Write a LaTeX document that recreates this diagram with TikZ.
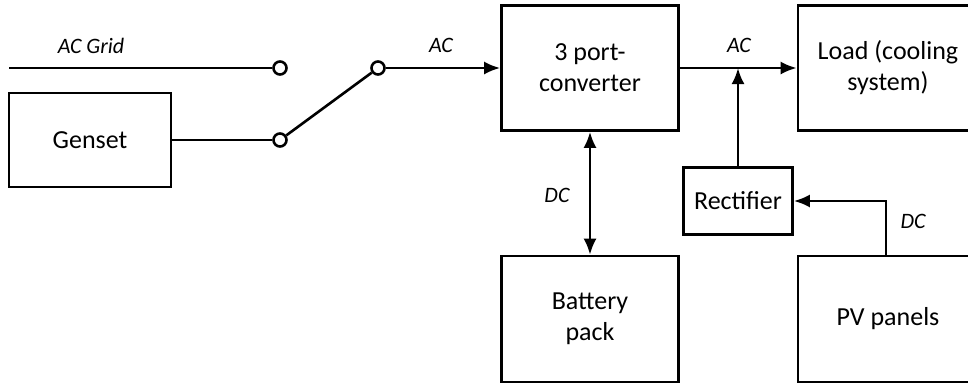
\documentclass[tikz,border=0pt]{standalone}
\usepackage{fontspec}
\setmainfont{Carlito}
\usetikzlibrary{arrows.meta,positioning,calc}

\begin{document}
\begin{tikzpicture}[x=1pt, y=-1pt, line width=2.6pt,
    every node/.style={font=\fontsize{26}{31}\selectfont},
    blk/.style={draw, rectangle, inner sep=0pt, align=center},
    term/.style={draw, circle, fill=white, inner sep=0pt, minimum size=13pt},
    lbl/.style={font=\fontsize{22}{26}\selectfont\itshape},
    flow/.style={-{Latex[length=16pt,width=13pt]}}]
  \clip (0,0) rectangle (968,384);
  % blocks
  \node[blk, minimum width=162pt, minimum height=94pt] (gen) at (90,140) {Genset};
  \node[blk, minimum width=177pt, minimum height=125pt] (conv) at (590,68) {3 port-\\converter};
  \node[blk, minimum width=180pt, minimum height=125pt] (load) at (888,68) {Load (cooling\\system)};
  \node[blk, minimum width=109pt, minimum height=67pt] (rect) at (738,201) {Rectifier};
  \node[blk, minimum width=177pt, minimum height=126pt] (bat) at (590,319) {Battery\\pack};
  \node[blk, minimum width=180pt, minimum height=126pt] (pv) at (888,319) {PV panels};
  % switch
  \coordinate (grid) at (9,68);
  \node[term] (t1) at (280,68) {};
  \node[term] (t2) at (280,140) {};
  \node[term] (t3) at (378,68) {};
  \draw (grid) -- (t1);
  \draw (gen.east) -- (t2);
  \draw (t2) -- (t3);
  % connections
  \draw[flow] (t3) -- (t3 -| conv.west);
  \draw[flow] (conv.east) -- (load.west);
  \draw[flow] (rect.north) -- (rect.north |- conv.east);
  \draw[{Latex[length=16pt,width=13pt]}-{Latex[length=16pt,width=13pt]}] (conv.south) -- (bat.north);
  \draw[flow] ([xshift=-2pt]pv.north) |- (rect.east);
  % labels
  \node[lbl] at (91,46) {AC Grid};
  \node[lbl] at (441,45) {AC};
  \node[lbl] at (739,45) {AC};
  \node[lbl] at (557,195) {DC};
  \node[lbl] at (913,221) {DC};
\end{tikzpicture}
\end{document}
